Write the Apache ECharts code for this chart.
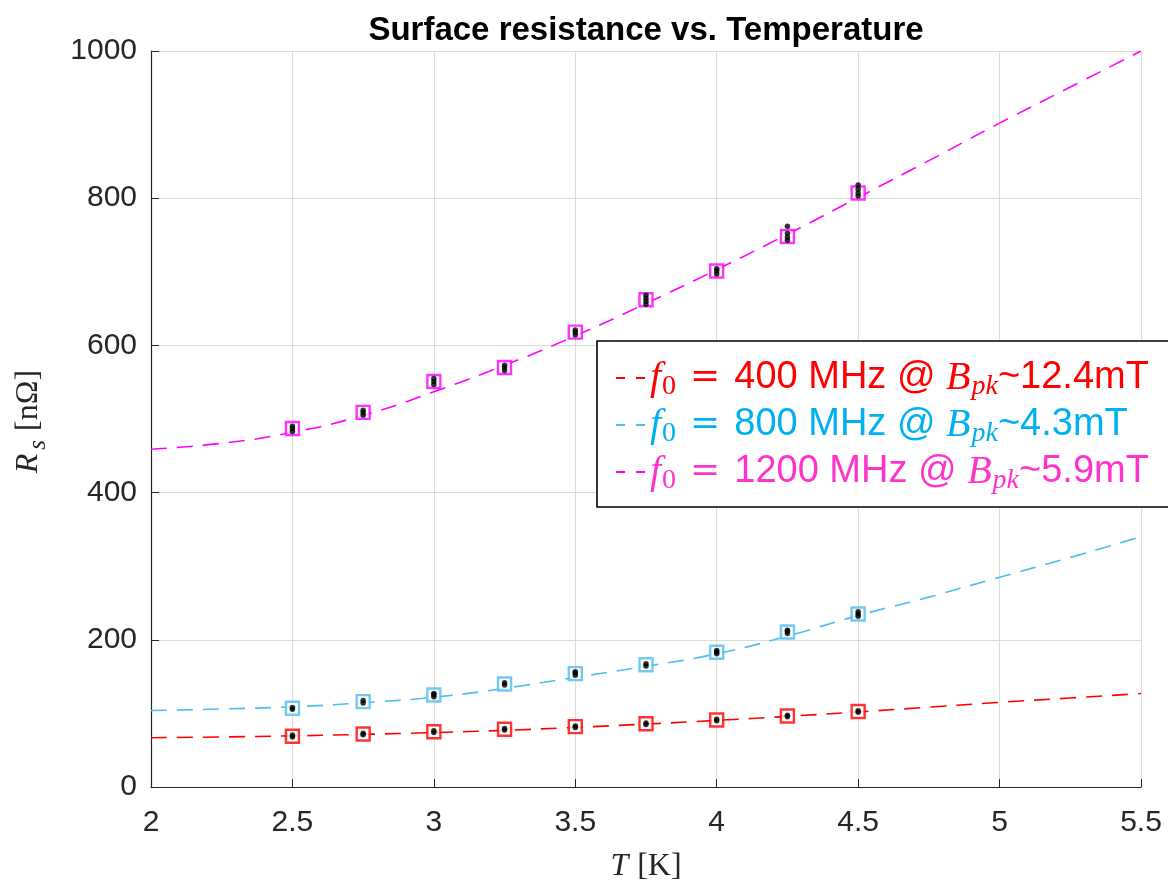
<!DOCTYPE html>
<html>
<head>
<meta charset="utf-8">
<script src="https://cdn.jsdelivr.net/npm/echarts@6/dist/echarts.min.js"></script>
<style>
  html, body { margin: 0; padding: 0; background: #ffffff; }
  #chart { width: 1168px; height: 885px; }
</style>
</head>
<body>
<div id="chart"></div>
<script>
// Temperatures [K] at which the fitted Rs(T) curves are sampled
const fitT = [2.0, 2.25, 2.5, 2.75, 3.0, 3.25, 3.5, 3.75, 4.0, 4.25, 4.5, 4.75, 5.0, 5.25, 5.5];
// Fitted surface resistance [nOhm]
const fit400  = [67, 68, 69.5, 71.5, 74, 77, 81, 85.5, 90.5, 96, 102, 108.5, 115, 121, 127];
const fit800  = [104, 106, 109, 114.5, 122, 134, 149, 164, 181, 205, 233, 258, 285, 312, 340];
const fit1200 = [459, 467, 482, 505, 537, 573, 613, 657, 703, 751, 801, 851, 902, 951, 1000];

// Measurement temperatures [K]
const measT = [2.5, 2.75, 3.0, 3.25, 3.5, 3.75, 4.0, 4.25, 4.5];
// Mean Rs per temperature [nOhm]
const mean400  = [69, 72, 75, 78.5, 82, 86, 91, 96.5, 102.5];
const mean800  = [107, 116, 125, 140, 154, 166, 183, 210.5, 235];
const mean1200 = [487, 509, 551, 570, 618, 662, 701, 748, 807];
// Individual runs per temperature [nOhm]
const runs400 = [[68, 70.5], [71, 73], [74, 76.5], [77.5, 79.5], [81, 83], [85, 87], [90, 92], [95.5, 97.5], [101.5, 103.5]];
const runs800 = [[105.5, 108], [114, 117.5], [122.5, 125.5, 127], [138.5, 141.5], [152, 155, 156.5], [164.5, 167.5], [181, 183.5, 185.5], [208.5, 211.5, 213], [232, 235, 238]];
const runs1200 = [[483, 487, 490], [505, 509, 512], [547, 551, 555], [566, 570, 573], [614, 618, 621], [656, 660, 664, 668], [697, 701, 704], [743, 747, 752, 762], [803, 807, 812, 818]];

// Legend labels: resonant frequency and peak field
const freqs = ['400', '800', '1200'];
const bpk = ['12.4', '4.3', '5.9'];
const curveColors = ['#FF0000', '#4DBEEE', '#FF00FF'];
const textColors = ['#FF0000', '#00B0F0', '#FF33CC'];

const seriesNames = freqs.map(f => f + ' MHz');
const fits = [fit400, fit800, fit1200];
const means = [mean400, mean800, mean1200];
const runs = [runs400, runs800, runs1200];

const axisColor = '#262626';
const gridColor = '#dcdcdc';
const sans = 'Liberation Sans';
const serif = 'Liberation Serif';

const series = [];
for (let k = 0; k < 3; k++) {
  series.push({
    name: seriesNames[k],
    type: 'line',
    data: fitT.map((t, i) => [t, fits[k][i]]),
    smooth: true,
    symbol: 'none',
    lineStyle: { color: curveColors[k], width: 1.6, type: [16, 10] },
    itemStyle: { color: curveColors[k] },
    z: 2
  });
}
for (let k = 0; k < 3; k++) {
  series.push({
    name: seriesNames[k] + ' mean',
    type: 'scatter',
    data: measT.map((t, i) => [t, means[k][i]]),
    symbol: 'rect',
    symbolSize: 13,
    itemStyle: { color: '#ffffff', borderColor: curveColors[k], borderWidth: 2.4 },
    z: 3
  });
}
for (let k = 0; k < 3; k++) {
  const pts = [];
  measT.forEach((t, i) => runs[k][i].forEach(v => pts.push([t, v])));
  series.push({
    name: seriesNames[k] + ' runs',
    type: 'scatter',
    data: pts,
    symbol: 'circle',
    symbolSize: 5.5,
    itemStyle: { color: '#000000' },
    z: 4
  });
}

// Two short dashes, as in a dashed-line key
const dashIcon = 'path://M0,0h9v2h-9zM20,0h9v2h-9z';

const legendRich = {
  it:   { fontFamily: serif, fontStyle: 'italic', fontSize: 40 },
  sub:  { fontFamily: serif, fontSize: 28, padding: [18, 2, 0, 1] },
  subi: { fontFamily: serif, fontStyle: 'italic', fontSize: 28, padding: [18, 0, 0, 1] },
  eq:   { fontFamily: 'DejaVu Serif', fontSize: 36, padding: [0, 14, 0, 12] },
  n:    { fontFamily: sans, fontSize: 38 }
};

const chart = echarts.init(document.getElementById('chart'), null, { renderer: 'canvas' });
chart.setOption({
  backgroundColor: '#ffffff',
  animation: false,
  title: {
    text: 'Surface resistance vs. Temperature',
    left: 641,
    textAlign: 'center',
    top: 9,
    textStyle: { fontFamily: sans, fontWeight: 'bold', fontSize: 33, color: '#000000' }
  },
  grid: { left: 151, right: 27, top: 51, bottom: 98, containLabel: false, outerBoundsMode: 'none' },
  legend: {
    orient: 'vertical',
    left: 597,
    top: 341,
    padding: [17, 40, 12, 19],
    itemGap: 4,
    itemWidth: 29,
    itemHeight: 2,
    itemTextGap: 14,
    borderColor: '#000000',
    borderWidth: 1.6,
    backgroundColor: '#ffffff',
    selectedMode: false,
    data: seriesNames.map((name, k) => ({ name: name, icon: dashIcon, textStyle: { color: textColors[k] } })),
    formatter: function (name) {
      const k = seriesNames.indexOf(name);
      return '{it|f}{sub|0}{eq|=}{n|' + freqs[k] + ' MHz @ }{it|B}{subi|pk}{n|~' + bpk[k] + 'mT}';
    },
    textStyle: { fontFamily: sans, fontSize: 38, rich: legendRich }
  },
  xAxis: {
    type: 'value',
    min: 2,
    max: 5.5,
    interval: 0.5,
    name: '{it|T}{n|[K]}',
    nameLocation: 'middle',
    nameGap: 64,
    nameTextStyle: {
      color: axisColor,
      rich: {
        it: { fontFamily: serif, fontStyle: 'italic', fontSize: 32, color: axisColor, padding: [0, 9, 0, 0] },
        n:  { fontFamily: serif, fontSize: 32, color: axisColor }
      }
    },
    axisLine: { show: true, onZero: false, lineStyle: { color: axisColor, width: 1.2 } },
    axisTick: { show: true, inside: true, length: 8, lineStyle: { color: axisColor } },
    axisLabel: { color: axisColor, fontFamily: sans, fontSize: 30, margin: 21 },
    splitLine: { show: true, lineStyle: { color: gridColor, width: 1 } }
  },
  yAxis: {
    type: 'value',
    min: 0,
    max: 1000,
    interval: 200,
    name: '{it|R}{sub|s}{n|[nΩ]}',
    nameLocation: 'middle',
    nameRotate: 90,
    nameGap: 100,
    nameTextStyle: {
      color: axisColor,
      rich: {
        it:  { fontFamily: serif, fontStyle: 'italic', fontSize: 32, color: axisColor },
        sub: { fontFamily: serif, fontStyle: 'italic', fontSize: 25, color: axisColor, padding: [20, 9, 0, 4] },
        n:   { fontFamily: serif, fontSize: 32, color: axisColor, padding: [0, 5, 0, 0] }
      }
    },
    axisLine: { show: true, onZero: false, lineStyle: { color: axisColor, width: 1.2 } },
    axisTick: { show: true, inside: true, length: 8, lineStyle: { color: axisColor } },
    axisLabel: {
      color: axisColor, fontFamily: sans, fontSize: 30, margin: 14,
      formatter: function (v) { return String(v); }
    },
    splitLine: { show: true, lineStyle: { color: gridColor, width: 1 } }
  },
  series: series
});
</script>
</body>
</html>
